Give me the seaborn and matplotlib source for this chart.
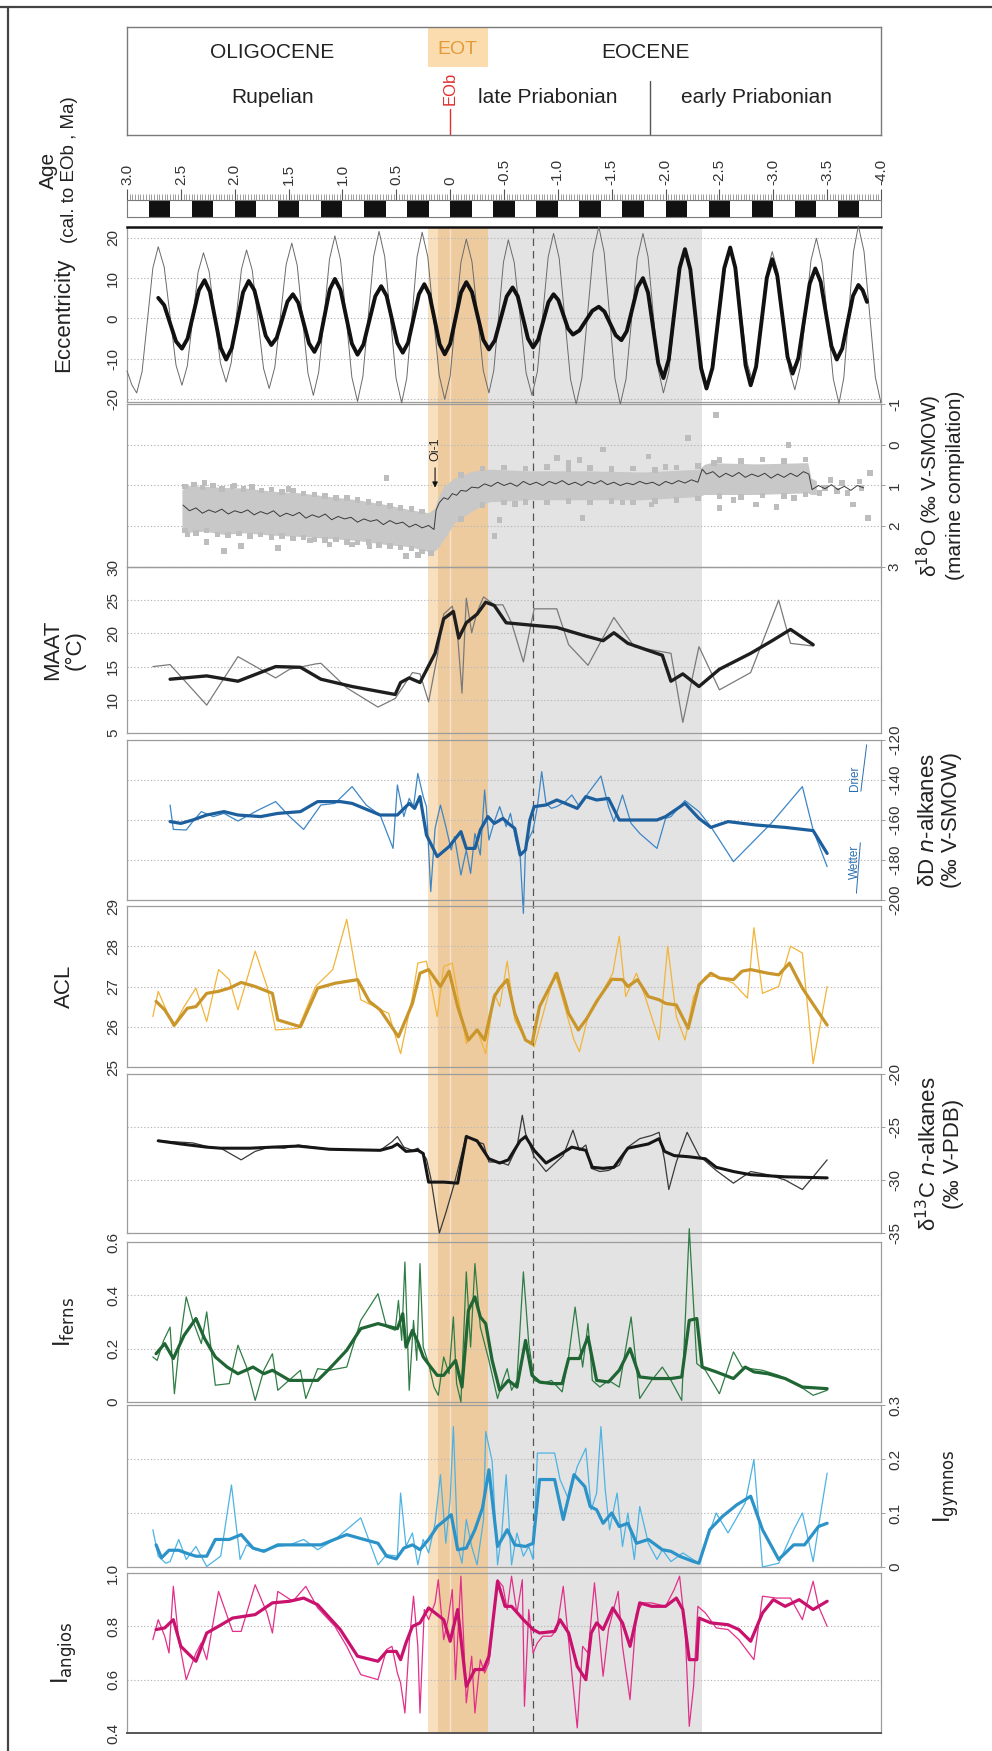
import matplotlib
matplotlib.use("Agg")
import matplotlib.pyplot as plt
import seaborn as sns
import pandas as pd
from matplotlib.lines import Line2D
from matplotlib.ticker import MultipleLocator

sns.set_theme(style="white")
plt.rcParams["font.family"] = ["Liberation Sans", "DejaVu Sans"]
plt.rcParams["axes.unicode_minus"] = False

# ---------------- data ----------------
age_ticks = [3.0, 2.5, 2.0, 1.5, 1.0, 0.5, 0.0, -0.5, -1.0, -1.5, -2.0, -2.5, -3.0, -3.5, -4.0]
age_ticklabels = ["3.0", "2.5", "2.0", "1.5", "1.0", "0.5", "0", "-0.5", "-1.0", "-1.5",
                  "-2.0", "-2.5", "-3.0", "-3.5", "-4.0"]
chron_black = [2.8, 2.4, 2.0, 1.6, 1.2, 0.8, 0.4, 0.0, -0.4, -0.8, -1.2, -1.6, -2.0,
               -2.4, -2.8, -3.2, -3.6]
chron_len = 0.2

eot_light = (0.21, -0.35)
eot_dark = (0.11, -0.35)
grey_band = (-0.35, -2.34)
eob_age = 0.0
dashed_age = -0.77
priabonian_split = -1.86

ecc_raw = [(3.00, -13.0), (2.955, -16.5), (2.91, -18.5), (2.86, -13.2), (2.81, -0.35), (2.76, 12.5),
           (2.71, 17.8), (2.655, 12.8), (2.60, 0.6), (2.545, -11.6), (2.49, -16.6), (2.44, -11.8),
           (2.39, -0.15), (2.34, 11.5), (2.29, 16.3), (2.2375, 11.6), (2.185, 0.25), (2.1325, -11.1),
           (2.08, -15.8), (2.0325, -11.0), (1.985, 0.6), (1.9375, 12.2), (1.89, 17.0), (1.8375, 12.0),
           (1.785, -0.2), (1.7325, -12.4), (1.68, -17.4), (1.6275, -12.1), (1.575, 0.65), (1.5225, 13.4),
           (1.47, 18.7), (1.42, 13.2), (1.37, -0.2), (1.32, -13.6), (1.27, -19.1), (1.22, -13.3),
           (1.17, 0.7), (1.12, 14.7), (1.07, 20.5), (1.0175, 14.5), (0.965, -0.05), (0.9125, -14.6),
           (0.86, -20.6), (0.81, -14.4), (0.76, 0.5), (0.71, 15.4), (0.66, 21.6), (0.6075, 15.4),
           (0.555, 0.3), (0.5025, -14.8), (0.45, -21.0), (0.4025, -14.8), (0.355, 0.2), (0.3075, 15.2),
           (0.26, 21.4), (0.2075, 15.3), (0.155, 0.65), (0.1025, -14.0), (0.05, -20.1), (0.0, -14.3),
           (-0.05, -0.2), (-0.10, 13.9), (-0.15, 19.7), (-0.2025, 14.1), (-0.255, 0.6), (-0.3075, -12.9),
           (-0.36, -18.5), (-0.405, -12.95), (-0.45, 0.5), (-0.495, 13.95), (-0.54, 19.5), (-0.595, 13.9),
           (-0.65, 0.2), (-0.705, -13.5), (-0.76, -19.1), (-0.81, -13.2), (-0.86, 1.0), (-0.91, 15.2),
           (-0.96, 21.1), (-1.0125, 14.9), (-1.065, -0.1), (-1.1175, -15.1), (-1.17, -21.3),
           (-1.2225, -14.9), (-1.275, 0.75), (-1.3275, 16.4), (-1.38, 22.8), (-1.43, 16.4),
           (-1.48, 0.75), (-1.53, -14.9), (-1.58, -21.3), (-1.6325, -15.1), (-1.685, -0.1),
           (-1.7375, 14.9), (-1.79, 21.1), (-1.8375, 15.3), (-1.885, 1.3), (-1.9325, -12.7),
           (-1.98, -18.5), (-2.03, -13.3), (-2.08, -0.65), (-2.13, 12.0), (-2.18, 17.2), (-2.2325, 12.2),
           (-2.285, 0.0), (-2.3375, -12.2), (-2.39, -17.2), (-2.4425, -12.2), (-2.495, -0.2),
           (-2.5475, 11.8), (-2.60, 16.8), (-2.6525, 12.0), (-2.705, 0.5), (-2.7575, -11.0),
           (-2.81, -15.8), (-2.855, -11.1), (-2.90, 0.4), (-2.945, 11.9), (-2.99, 16.6), (-3.0425, 11.6),
           (-3.095, -0.55), (-3.1475, -12.7), (-3.20, -17.7), (-3.25, -12.2), (-3.30, 1.1), (-3.35, 14.4),
           (-3.40, 19.9), (-3.4525, 13.9), (-3.505, -0.6), (-3.5575, -15.1), (-3.61, -21.1),
           (-3.655, -14.7), (-3.70, 1.0), (-3.745, 16.6), (-3.79, 23.0), (-3.8425, 16.6), (-3.895, 1.0),
           (-3.9475, -14.6), (-4.00, -21.0)]
ecc_fit = [(2.71, 5.1), (2.655, 3.3), (2.60, -1.2), (2.545, -5.7), (2.49, -7.5), (2.4375, -5.0),
           (2.385, 1.0), (2.3325, 7.0), (2.28, 9.5), (2.23, 6.6), (2.18, -0.35), (2.13, -7.3),
           (2.08, -10.2), (2.0275, -7.4), (1.975, -0.45), (1.9225, 6.5), (1.87, 9.3), (1.8175, 7.0),
           (1.765, 1.35), (1.7125, -4.3), (1.66, -6.6), (1.61, -4.8), (1.56, -0.3), (1.51, 4.2),
           (1.46, 6.0), (1.41, 3.9), (1.36, -1.15), (1.31, -6.2), (1.26, -8.3), (1.2125, -5.7),
           (1.165, 0.75), (1.1175, 7.2), (1.07, 9.8), (1.0175, 7.05), (0.965, 0.4), (0.9125, -6.25),
           (0.86, -9.0), (0.805, -6.5), (0.75, -0.5), (0.695, 5.5), (0.64, 8.0), (0.59, 5.6),
           (0.54, -0.25), (0.49, -6.1), (0.44, -8.5), (0.39, -6.0), (0.34, 0.0), (0.29, 6.0),
           (0.24, 8.5), (0.1925, 6.0), (0.145, -0.2), (0.0975, -6.4), (0.05, -8.9), (0.0, -6.3),
           (-0.05, 0.05), (-0.10, 6.4), (-0.15, 9.0), (-0.2025, 6.55), (-0.255, 0.65), (-0.3075, -5.3),
           (-0.36, -7.7), (-0.415, -5.45), (-0.47, 0.0), (-0.525, 5.45), (-0.58, 7.7), (-0.6275, 5.5),
           (-0.675, 0.25), (-0.7225, -5.0), (-0.77, -7.2), (-0.8175, -5.25), (-0.865, -0.6),
           (-0.9125, 4.05), (-0.96, 6.0), (-1.005, 4.55), (-1.05, 1.0), (-1.095, -2.55), (-1.14, -4.0),
           (-1.20, -3.0), (-1.26, -0.55), (-1.32, 1.9), (-1.38, 2.9), (-1.4325, 1.7), (-1.485, -1.25),
           (-1.5375, -4.2), (-1.59, -5.4), (-1.64, -3.15), (-1.69, 2.3), (-1.74, 7.75), (-1.79, 10.0),
           (-1.8375, 6.4), (-1.885, -2.4), (-1.9325, -11.2), (-1.98, -14.8), (-2.03, -10.1),
           (-2.08, 1.2), (-2.13, 12.5), (-2.18, 17.2), (-2.23, 12.15), (-2.28, -0.1), (-2.33, -12.35),
           (-2.38, -17.4), (-2.435, -12.3), (-2.49, 0.1), (-2.545, 12.5), (-2.60, 17.6),
           (-2.6475, 12.6), (-2.695, 0.5), (-2.7425, -11.6), (-2.79, -16.6), (-2.84, -12.0),
           (-2.89, -0.95), (-2.94, 10.1), (-2.99, 14.7), (-3.0375, 10.55), (-3.085, 0.5),
           (-3.1325, -9.55), (-3.18, -13.7), (-3.2325, -9.9), (-3.285, -0.65), (-3.3375, 8.6),
           (-3.39, 12.4), (-3.44, 9.1), (-3.49, 1.1), (-3.54, -6.9), (-3.59, -10.2), (-3.64, -7.5),
           (-3.69, -0.95), (-3.74, 5.6), (-3.79, 8.3), (-3.83, 7.0), (-3.87, 4.1)]

# marine d18O: cloud envelope (age, low edge, high edge), single measurements, running mean
d18o_cloud = [(2.49, 1.10, 2.05), (2.44, 1.00, 2.15), (2.28, 1.02, 2.12), (2.10, 1.05, 2.20),
              (1.91, 1.06, 2.16), (1.65, 1.14, 2.22), (1.39, 1.18, 2.25), (1.12, 1.27, 2.30),
              (0.86, 1.35, 2.35), (0.59, 1.47, 2.45), (0.38, 1.59, 2.50), (0.20, 1.67, 2.62),
              (0.14, 1.55, 2.60), (0.12, 1.35, 2.55), (0.06, 1.02, 2.33), (-0.04, 0.82, 1.92),
              (-0.20, 0.65, 1.63), (-0.36, 0.60, 1.40), (-0.73, 0.64, 1.35), (-1.26, 0.64, 1.35),
              (-1.79, 0.67, 1.35), (-2.31, 0.60, 1.27), (-2.36, 0.48, 1.22), (-2.42, 0.44, 1.22),
              (-2.84, 0.47, 1.22), (-3.32, 0.44, 1.18), (-3.35, 0.82, 1.22), (-3.40, 0.88, 1.22)]
d18o_points = [(2.26, 2.39), (2.10, 2.61), (1.94, 2.49), (1.60, 2.53), (1.12, 2.45), (0.91, 2.45),
               (0.75, 2.49), (0.59, 0.82), (0.41, 2.73), (2.44, 2.20), (2.28, 0.94), (-0.41, 2.24),
               (-0.46, 1.84), (-0.99, 0.33), (-1.10, 0.45), (-1.20, 0.37), (-1.42, 0.12),
               (-1.23, 1.80), (-1.87, 1.47), (-1.84, 0.29), (-2.21, -0.16), (-2.45, 0.45),
               (-2.50, 1.55), (-2.63, 1.35), (-2.84, 1.47), (-3.03, 1.53), (-3.14, 0.00),
               (-3.19, 1.31), (-3.74, 1.47), (-3.88, 1.80), (-3.90, 0.69), (-3.48, 1.06),
               (-3.64, 0.94), (-3.59, 1.14), (-3.80, 0.90), (-3.43, 1.18), (-3.53, 0.86),
               (-3.69, 1.18), (-3.82, 1.06), (-2.47, -0.73), (1.30, 2.35), (0.30, 2.70),
               (2.00, 1.00), (1.50, 1.08), (-0.60, 1.45), (-1.60, 1.42), (-2.00, 0.55),
               (2.46, 1.02), (2.38, 0.98), (2.30, 1.05), (2.20, 1.00), (2.12, 1.08), (2.02, 1.02),
               (1.92, 1.08), (1.84, 1.04), (1.75, 1.12), (1.66, 1.10), (1.56, 1.16), (1.46, 1.12),
               (1.36, 1.20), (1.26, 1.22), (1.16, 1.26), (1.06, 1.30), (0.96, 1.30), (0.86, 1.36),
               (0.76, 1.40), (0.66, 1.44), (0.56, 1.50), (0.46, 1.55), (0.36, 1.58), (0.26, 1.64),
               (2.46, 2.10), (2.36, 2.16), (2.26, 2.10), (2.16, 2.20), (2.06, 2.22), (1.96, 2.18),
               (1.86, 2.24), (1.76, 2.20), (1.66, 2.26), (1.56, 2.24), (1.46, 2.30), (1.36, 2.28),
               (1.26, 2.32), (1.16, 2.34), (1.06, 2.32), (0.96, 2.38), (0.86, 2.40), (0.76, 2.38),
               (0.66, 2.46), (0.56, 2.48), (0.46, 2.52), (0.36, 2.55), (0.26, 2.62), (0.18, 2.66),
               (-0.10, 0.74), (-0.30, 0.58), (-0.50, 0.56), (-0.70, 0.58), (-0.90, 0.55), (-1.10, 0.60),
               (-1.30, 0.57), (-1.50, 0.60), (-1.70, 0.58), (-1.90, 0.62), (-2.10, 0.56), (-2.30, 0.52),
               (-2.50, 0.38), (-2.70, 0.40), (-2.90, 0.36), (-3.10, 0.40), (-3.30, 0.36),
               (-0.10, 1.82), (-0.30, 1.48), (-0.50, 1.42), (-0.70, 1.40), (-0.90, 1.42), (-1.10, 1.38),
               (-1.30, 1.42), (-1.50, 1.38), (-1.70, 1.42), (-1.90, 1.38), (-2.10, 1.35), (-2.30, 1.32),
               (-2.50, 1.26), (-2.70, 1.28), (-2.90, 1.25), (-3.10, 1.26), (-3.30, 1.22)]
d18o_mean = [(2.48, 1.48), (2.42, 1.62), (2.36, 1.55), (2.30, 1.68), (2.24, 1.60), (2.18, 1.66),
             (2.12, 1.58), (2.06, 1.70), (2.00, 1.62), (1.94, 1.67), (1.88, 1.60), (1.82, 1.72),
             (1.76, 1.64), (1.70, 1.70), (1.64, 1.62), (1.58, 1.76), (1.52, 1.68), (1.46, 1.74),
             (1.40, 1.66), (1.34, 1.80), (1.28, 1.72), (1.22, 1.78), (1.16, 1.70), (1.10, 1.84),
             (1.04, 1.76), (0.98, 1.82), (0.92, 1.78), (0.86, 1.90), (0.80, 1.82), (0.74, 1.88),
             (0.68, 1.84), (0.62, 1.96), (0.56, 1.86), (0.50, 1.94), (0.44, 1.90), (0.38, 2.02),
             (0.32, 1.95), (0.26, 2.04), (0.20, 1.98), (0.15, 2.08), (0.13, 1.60), (0.10, 1.42),
             (0.06, 1.30), (0.02, 1.34), (-0.02, 1.20), (-0.06, 1.24), (-0.10, 1.12), (-0.15, 1.14),
             (-0.20, 1.04), (-0.26, 1.06), (-0.32, 0.96), (-0.38, 1.02), (-0.44, 0.92), (-0.50, 1.00),
             (-0.56, 0.94), (-0.62, 1.02), (-0.68, 0.90), (-0.74, 0.98), (-0.80, 0.92), (-0.86, 1.00),
             (-0.92, 0.90), (-0.98, 0.96), (-1.04, 0.88), (-1.10, 0.98), (-1.16, 0.92), (-1.22, 1.00),
             (-1.28, 0.90), (-1.34, 0.96), (-1.40, 0.88), (-1.46, 0.98), (-1.52, 0.92), (-1.58, 1.00),
             (-1.64, 0.94), (-1.70, 0.98), (-1.76, 0.90), (-1.82, 0.96), (-1.88, 0.92), (-1.94, 1.00),
             (-2.00, 0.90), (-2.06, 0.96), (-2.12, 0.88), (-2.18, 0.94), (-2.24, 0.86), (-2.30, 0.92),
             (-2.34, 0.60), (-2.38, 0.72), (-2.44, 0.66), (-2.50, 0.80), (-2.56, 0.70), (-2.62, 0.78),
             (-2.68, 0.68), (-2.74, 0.80), (-2.80, 0.72), (-2.86, 0.78), (-2.92, 0.70), (-2.98, 0.82),
             (-3.04, 0.72), (-3.10, 0.80), (-3.16, 0.70), (-3.22, 0.78), (-3.28, 0.66), (-3.33, 0.72),
             (-3.36, 1.10), (-3.42, 1.00), (-3.48, 1.08), (-3.54, 0.98), (-3.60, 1.10), (-3.66, 1.02),
             (-3.72, 1.12), (-3.78, 1.00), (-3.84, 1.06)]
oi1_age = 0.14

maat_raw = [(2.76, 15.0), (2.60, 15.3), (2.26, 9.2), (1.97, 16.5), (1.62, 13.3), (1.49, 14.6),
            (1.25, 15.4), (1.20, 15.5), (0.96, 11.8), (0.67, 8.9), (0.51, 10.2), (0.35, 14.1),
            (0.28, 13.9), (0.20, 9.7), (0.12, 16.5), (0.06, 22.9), (-0.02, 24.1), (-0.07, 19.6),
            (-0.11, 11.0), (-0.15, 25.3), (-0.20, 20.1), (-0.25, 23.2), (-0.31, 25.5), (-0.41, 24.3),
            (-0.49, 24.3), (-0.57, 21.6), (-0.68, 15.7), (-0.78, 23.7), (-0.99, 23.7), (-1.10, 18.3),
            (-1.28, 15.2), (-1.52, 22.4), (-1.71, 18.0), (-2.05, 17.0), (-2.16, 6.6), (-2.31, 18.0),
            (-2.50, 11.5), (-2.79, 14.1), (-3.05, 25.0), (-3.16, 18.5), (-3.37, 18.1)]
maat_fit = [(2.60, 13.1), (2.26, 13.6), (1.97, 12.8), (1.62, 15.0), (1.39, 14.9), (1.20, 13.1),
            (0.91, 12.0), (0.51, 10.8), (0.46, 12.6), (0.38, 13.3), (0.28, 12.6), (0.14, 17.0),
            (0.06, 22.2), (-0.03, 23.3), (-0.08, 19.3), (-0.15, 21.6), (-0.25, 22.9), (-0.33, 24.7),
            (-0.41, 24.2), (-0.52, 21.6), (-0.78, 21.2), (-0.99, 20.9), (-1.26, 19.6), (-1.42, 18.9),
            (-1.52, 20.1), (-1.65, 18.5), (-1.97, 16.7), (-2.05, 12.8), (-2.16, 13.9), (-2.31, 12.0),
            (-2.50, 14.6), (-2.79, 17.0), (-3.00, 19.0), (-3.16, 20.6), (-3.37, 18.3)]

dD_raw = [(2.60, -152.5), (2.57, -164.7), (2.45, -165.0), (2.39, -160.8), (2.31, -155.8),
          (2.20, -158.3), (2.10, -156.7), (1.97, -160.5), (1.78, -155.0), (1.62, -150.8),
          (1.49, -158.3), (1.36, -164.7), (1.20, -152.5), (1.07, -151.7), (0.91, -143.3),
          (0.78, -152.5), (0.65, -157.5), (0.53, -174.2), (0.49, -142.5), (0.43, -158.3),
          (0.38, -149.2), (0.34, -153.3), (0.30, -136.7), (0.25, -148.3), (0.22, -153.3),
          (0.18, -195.8), (0.14, -164.2), (0.09, -152.5), (0.04, -163.3), (-0.01, -175.0),
          (-0.04, -168.3), (-0.10, -187.5), (-0.15, -175.0), (-0.19, -186.7), (-0.23, -166.7),
          (-0.28, -177.5), (-0.32, -145.0), (-0.36, -170.0), (-0.41, -160.8), (-0.46, -153.3),
          (-0.52, -163.3), (-0.56, -156.7), (-0.61, -170.0), (-0.65, -178.3), (-0.68, -206.7),
          (-0.70, -173.3), (-0.74, -168.3), (-0.77, -165.0), (-0.81, -153.3), (-0.85, -135.8),
          (-0.89, -151.7), (-0.94, -154.2), (-0.99, -153.3), (-1.07, -150.8), (-1.13, -147.5),
          (-1.20, -153.3), (-1.28, -146.7), (-1.40, -138.0), (-1.47, -153.3), (-1.52, -160.8),
          (-1.60, -147.5), (-1.68, -161.7), (-1.76, -166.7), (-1.92, -174.2), (-2.00, -159.2),
          (-2.05, -158.3), (-2.18, -150.3), (-2.31, -155.8), (-2.42, -163.3), (-2.63, -180.8),
          (-2.98, -161.7), (-3.27, -143.3), (-3.37, -165.0), (-3.50, -183.3)]
dD_fit = [(2.60, -160.8), (2.50, -161.7), (2.39, -160.0), (2.26, -157.5), (2.10, -155.8),
          (1.97, -157.5), (1.76, -158.3), (1.60, -156.7), (1.39, -155.8), (1.23, -150.8),
          (1.02, -150.8), (0.91, -151.7), (0.65, -157.5), (0.49, -157.5), (0.38, -151.7),
          (0.33, -154.2), (0.28, -148.3), (0.22, -167.5), (0.12, -178.3), (0.01, -173.3),
          (-0.10, -165.8), (-0.15, -174.2), (-0.23, -174.2), (-0.28, -165.0), (-0.35, -158.3),
          (-0.41, -161.7), (-0.49, -159.2), (-0.54, -161.7), (-0.60, -164.2), (-0.65, -177.5),
          (-0.70, -175.0), (-0.74, -160.0), (-0.78, -153.3), (-0.89, -152.5), (-0.99, -150.0),
          (-1.07, -151.7), (-1.18, -154.2), (-1.26, -148.3), (-1.36, -150.0), (-1.47, -149.2),
          (-1.57, -160.0), (-1.76, -160.0), (-1.92, -160.0), (-2.00, -158.3), (-2.18, -151.7),
          (-2.31, -159.2), (-2.42, -163.7), (-2.58, -160.8), (-2.84, -162.5), (-3.11, -163.7),
          (-3.37, -165.3), (-3.50, -176.7)]

acl_raw = [(2.76, 26.25), (2.71, 26.88), (2.57, 26.0), (2.47, 26.5), (2.36, 26.96), (2.26, 26.13),
           (2.15, 27.42), (2.05, 27.17), (1.97, 26.42), (1.81, 27.88), (1.70, 27.0), (1.62, 25.92),
           (1.41, 25.96), (1.25, 27.0), (1.09, 27.42), (0.96, 28.67), (0.83, 26.67), (0.67, 26.46),
           (0.57, 26.33), (0.46, 25.33), (0.35, 26.75), (0.30, 27.58), (0.22, 27.63), (0.12, 26.25),
           (0.06, 27.5), (-0.02, 27.58), (-0.15, 25.58), (-0.25, 25.92), (-0.33, 25.33), (-0.41, 26.83),
           (-0.46, 26.5), (-0.53, 27.63), (-0.60, 26.17), (-0.70, 25.67), (-0.78, 25.5), (-0.89, 26.58),
           (-0.97, 27.33), (-1.02, 26.92), (-1.15, 25.67), (-1.20, 25.38), (-1.28, 26.25), (-1.36, 26.58),
           (-1.44, 27.0), (-1.51, 27.33), (-1.57, 28.25), (-1.63, 26.75), (-1.73, 27.33), (-1.81, 26.75),
           (-1.87, 26.25), (-1.94, 25.67), (-2.02, 28.0), (-2.10, 26.25), (-2.18, 25.67), (-2.26, 26.75),
           (-2.37, 27.25), (-2.47, 27.25), (-2.63, 27.08), (-2.76, 26.71), (-2.82, 28.46), (-2.90, 26.83),
           (-3.05, 27.0), (-3.16, 28.0), (-3.27, 27.83), (-3.37, 25.08), (-3.50, 27.0)]
acl_fit = [(2.73, 26.63), (2.65, 26.42), (2.56, 26.04), (2.44, 26.46), (2.36, 26.5), (2.26, 26.83),
           (2.15, 26.88), (2.05, 26.96), (1.94, 27.1), (1.81, 27.0), (1.65, 26.83), (1.60, 26.17),
           (1.39, 26.0), (1.23, 26.96), (1.07, 27.08), (0.86, 27.17), (0.75, 26.63), (0.65, 26.42),
           (0.48, 25.75), (0.35, 26.58), (0.28, 27.33), (0.20, 27.42), (0.09, 27.0), (0.01, 27.38),
           (-0.07, 26.5), (-0.17, 25.67), (-0.25, 25.92), (-0.32, 25.67), (-0.41, 26.75), (-0.46, 26.96),
           (-0.53, 27.17), (-0.60, 26.33), (-0.70, 25.67), (-0.76, 25.58), (-0.83, 26.5), (-0.99, 27.33),
           (-1.10, 26.33), (-1.19, 25.92), (-1.27, 26.21), (-1.36, 26.63), (-1.50, 27.18), (-1.60, 27.17),
           (-1.65, 27.0), (-1.74, 27.17), (-1.84, 26.75), (-1.94, 26.67), (-2.00, 26.58), (-2.10, 26.54),
           (-2.21, 25.96), (-2.31, 27.04), (-2.42, 27.33), (-2.50, 27.21), (-2.63, 27.17), (-2.71, 27.38),
           (-2.79, 27.42), (-2.95, 27.33), (-3.05, 27.29), (-3.15, 27.58), (-3.27, 26.96), (-3.50, 26.04)]

d13c_raw = [(2.71, -26.3), (2.55, -26.4), (2.39, -26.5), (2.23, -26.9), (2.13, -27.0), (1.94, -28.1),
            (1.81, -27.3), (1.68, -26.9), (1.54, -27.0), (1.41, -26.7), (1.12, -27.1), (0.86, -27.2),
            (0.65, -27.2), (0.54, -26.4), (0.49, -25.9), (0.43, -26.9), (0.35, -27.2), (0.30, -27.0),
            (0.22, -28.0), (0.18, -29.8), (0.10, -35.0), (0.04, -33.1), (-0.04, -30.3), (-0.15, -25.8),
            (-0.23, -26.3), (-0.31, -26.6), (-0.36, -28.3), (-0.46, -28.3), (-0.54, -28.6), (-0.62, -26.9),
            (-0.67, -23.9), (-0.70, -25.6), (-0.78, -27.8), (-0.89, -29.2), (-1.05, -27.7), (-1.14, -25.3),
            (-1.20, -27.2), (-1.26, -26.7), (-1.31, -28.9), (-1.39, -29.2), (-1.47, -29.1), (-1.57, -28.6),
            (-1.65, -26.9), (-1.76, -26.1), (-1.87, -25.8), (-1.94, -25.5), (-1.99, -28.1), (-2.03, -30.9),
            (-2.10, -28.3), (-2.20, -25.5), (-2.31, -27.7), (-2.47, -29.1), (-2.63, -30.3), (-2.79, -29.2),
            (-2.95, -29.5), (-3.11, -30.0), (-3.27, -30.9), (-3.37, -29.7), (-3.50, -28.1)]
d13c_fit = [(2.71, -26.3), (2.50, -26.6), (2.26, -26.9), (2.13, -27.0), (1.86, -27.0), (1.65, -26.9),
            (1.41, -26.8), (1.12, -27.1), (0.65, -27.2), (0.54, -26.9), (0.49, -26.6), (0.41, -27.3),
            (0.30, -27.2), (0.25, -27.5), (0.20, -30.2), (0.06, -30.2), (-0.07, -30.3), (-0.15, -25.9),
            (-0.25, -26.3), (-0.36, -28.0), (-0.46, -28.4), (-0.54, -28.1), (-0.65, -26.3), (-0.70, -25.9),
            (-0.78, -27.2), (-0.89, -28.4), (-0.99, -27.8), (-1.13, -26.9), (-1.26, -27.2), (-1.32, -28.8),
            (-1.42, -28.9), (-1.52, -28.8), (-1.65, -27.0), (-1.84, -26.6), (-1.94, -26.1), (-1.99, -27.3),
            (-2.08, -27.7), (-2.21, -27.8), (-2.37, -28.0), (-2.47, -28.8), (-2.63, -29.2), (-2.79, -29.5),
            (-3.11, -29.7), (-3.50, -29.8)]

ferns_raw = [(2.76, 0.169), (2.72, 0.156), (2.66, 0.231), (2.60, 0.281), (2.56, 0.031), (2.52, 0.194),
             (2.45, 0.394), (2.39, 0.306), (2.31, 0.219), (2.26, 0.338), (2.18, 0.063), (2.05, 0.069),
             (1.97, 0.213), (1.89, 0.131), (1.81, 0.006), (1.73, 0.119), (1.65, 0.181), (1.60, 0.044),
             (1.46, 0.094), (1.39, 0.119), (1.34, 0.013), (1.23, 0.125), (1.12, 0.119), (0.96, 0.131),
             (0.83, 0.306), (0.67, 0.406), (0.59, 0.281), (0.51, 0.269), (0.48, 0.381), (0.45, 0.231),
             (0.42, 0.525), (0.38, 0.044), (0.34, 0.306), (0.31, 0.156), (0.28, 0.519), (0.25, 0.206),
             (0.20, 0.144), (0.15, 0.056), (0.11, 0.025), (0.06, 0.169), (0.01, 0.106), (-0.03, 0.319),
             (-0.06, 0.069), (-0.10, 0.0), (-0.15, 0.488), (-0.19, 0.206), (-0.23, 0.519), (-0.28, 0.281),
             (-0.36, 0.156), (-0.44, 0.013), (-0.49, 0.081), (-0.53, 0.125), (-0.57, 0.044), (-0.62, 0.081),
             (-0.68, 0.488), (-0.73, 0.219), (-0.78, 0.081), (-0.86, 0.069), (-0.94, 0.081), (-1.04, 0.038),
             (-1.10, 0.169), (-1.16, 0.356), (-1.23, 0.131), (-1.28, 0.294), (-1.32, 0.081), (-1.39, 0.056),
             (-1.47, 0.081), (-1.57, 0.056), (-1.68, 0.319), (-1.76, 0.013), (-1.87, 0.081), (-1.97, 0.131),
             (-2.05, 0.081), (-2.15, 0.006), (-2.22, 0.65), (-2.29, 0.144), (-2.37, 0.119), (-2.50, 0.031),
             (-2.63, 0.188), (-2.71, 0.131), (-2.79, 0.125), (-2.90, 0.119), (-3.05, 0.1), (-3.21, 0.069),
             (-3.37, 0.025), (-3.50, 0.044)]
ferns_fit = [(2.73, 0.181), (2.65, 0.219), (2.57, 0.163), (2.47, 0.25), (2.36, 0.313), (2.28, 0.238),
             (2.18, 0.169), (2.07, 0.131), (1.97, 0.106), (1.83, 0.131), (1.73, 0.106), (1.65, 0.119),
             (1.49, 0.081), (1.33, 0.081), (1.23, 0.081), (1.12, 0.125), (0.96, 0.194), (0.83, 0.275),
             (0.67, 0.294), (0.49, 0.275), (0.44, 0.331), (0.41, 0.206), (0.35, 0.269), (0.30, 0.225),
             (0.25, 0.169), (0.18, 0.131), (0.12, 0.1), (0.06, 0.1), (0.00, 0.131), (-0.05, 0.156),
             (-0.11, 0.056), (-0.17, 0.344), (-0.23, 0.394), (-0.28, 0.319), (-0.33, 0.294), (-0.39, 0.156),
             (-0.46, 0.044), (-0.54, 0.081), (-0.62, 0.056), (-0.70, 0.231), (-0.76, 0.1), (-0.83, 0.075),
             (-0.94, 0.069), (-1.04, 0.069), (-1.10, 0.163), (-1.20, 0.163), (-1.28, 0.244), (-1.36, 0.081),
             (-1.47, 0.075), (-1.57, 0.119), (-1.67, 0.2), (-1.76, 0.094), (-1.89, 0.088), (-2.05, 0.088),
             (-2.15, 0.094), (-2.22, 0.306), (-2.29, 0.313), (-2.34, 0.131), (-2.47, 0.113), (-2.63, 0.088),
             (-2.74, 0.131), (-2.82, 0.113), (-2.95, 0.106), (-3.11, 0.088), (-3.27, 0.056), (-3.50, 0.05)]

gymnos_raw = [(2.76, 0.069), (2.71, 0.020), (2.64, 0.007), (2.60, 0.010), (2.52, 0.051), (2.45, 0.014),
              (2.36, 0.038), (2.26, 0.001), (2.13, 0.020), (2.03, 0.152), (1.95, 0.014), (1.89, 0.041),
              (1.81, 0.032), (1.70, 0.032), (1.60, 0.038), (1.49, 0.041), (1.36, 0.051), (1.23, 0.032),
              (1.07, 0.051), (0.83, 0.091), (0.67, 0.004), (0.59, 0.023), (0.49, 0.020), (0.46, 0.137),
              (0.41, 0.038), (0.35, 0.063), (0.30, 0.004), (0.25, 0.051), (0.20, 0.026), (0.14, 0.081),
              (0.09, 0.171), (0.04, 0.044), (0.00, 0.125), (-0.03, 0.26), (-0.07, 0.038), (-0.11, 0.007),
              (-0.15, 0.088), (-0.20, 0.038), (-0.25, 0.004), (-0.31, 0.088), (-0.33, 0.251), (-0.39, 0.196),
              (-0.44, 0.004), (-0.48, 0.063), (-0.52, 0.171), (-0.57, 0.004), (-0.62, 0.063), (-0.68, 0.020),
              (-0.73, 0.038), (-0.77, 0.014), (-0.81, 0.211), (-0.89, 0.211), (-0.97, 0.211), (-1.02, 0.162),
              (-1.10, 0.125), (-1.18, 0.186), (-1.26, 0.22), (-1.31, 0.106), (-1.36, 0.137), (-1.40, 0.26),
              (-1.44, 0.143), (-1.48, 0.069), (-1.55, 0.137), (-1.60, 0.038), (-1.65, 0.1), (-1.71, 0.014),
              (-1.76, 0.112), (-1.84, 0.044), (-1.92, 0.014), (-1.97, 0.032), (-2.05, 0.010), (-2.16, 0.026),
              (-2.31, 0.007), (-2.47, 0.1), (-2.58, 0.063), (-2.74, 0.119), (-2.82, 0.199), (-2.90, 0.0),
              (-3.05, 0.007), (-3.19, 0.069), (-3.27, 0.1), (-3.37, 0.010), (-3.42, 0.075), (-3.50, 0.174)]
gymnos_fit = [(2.73, 0.041), (2.68, 0.017), (2.61, 0.031), (2.52, 0.031), (2.44, 0.025), (2.36, 0.020),
              (2.26, 0.020), (2.18, 0.051), (2.05, 0.051), (1.94, 0.060), (1.83, 0.035), (1.73, 0.029),
              (1.60, 0.041), (1.39, 0.041), (1.20, 0.041), (0.96, 0.060), (0.80, 0.051), (0.67, 0.044),
              (0.59, 0.020), (0.50, 0.015), (0.43, 0.035), (0.35, 0.041), (0.28, 0.032), (0.20, 0.051),
              (0.12, 0.075), (0.04, 0.088), (-0.01, 0.097), (-0.07, 0.032), (-0.15, 0.035), (-0.23, 0.069),
              (-0.30, 0.109), (-0.36, 0.180), (-0.44, 0.038), (-0.53, 0.069), (-0.60, 0.041), (-0.70, 0.038),
              (-0.77, 0.044), (-0.83, 0.162), (-0.97, 0.162), (-1.05, 0.088), (-1.15, 0.171), (-1.25, 0.149),
              (-1.30, 0.112), (-1.36, 0.106), (-1.42, 0.081), (-1.50, 0.1), (-1.57, 0.075), (-1.65, 0.081),
              (-1.73, 0.044), (-1.84, 0.051), (-1.97, 0.032), (-2.05, 0.029), (-2.13, 0.020), (-2.26, 0.010),
              (-2.31, 0.007), (-2.41, 0.069), (-2.53, 0.094), (-2.66, 0.115), (-2.79, 0.131), (-2.90, 0.069),
              (-3.05, 0.014), (-3.19, 0.041), (-3.29, 0.041), (-3.42, 0.075), (-3.50, 0.081)]

angios_raw = [(2.76, 0.75), (2.71, 0.825), (2.65, 0.763), (2.61, 0.70), (2.57, 0.95), (2.52, 0.75),
              (2.45, 0.60), (2.36, 0.70), (2.31, 0.738), (2.26, 0.675), (2.15, 0.931), (2.02, 0.781),
              (1.94, 0.781), (1.81, 0.956), (1.70, 0.85), (1.65, 0.775), (1.60, 0.931), (1.46, 0.894),
              (1.34, 0.95), (1.23, 0.869), (1.07, 0.80), (0.96, 0.725), (0.83, 0.619), (0.67, 0.60),
              (0.59, 0.713), (0.54, 0.725), (0.49, 0.625), (0.46, 0.588), (0.42, 0.475), (0.38, 0.738),
              (0.34, 0.913), (0.30, 0.725), (0.28, 0.475), (0.24, 0.863), (0.20, 0.825), (0.14, 0.888),
              (0.11, 0.975), (0.06, 0.75), (0.02, 0.825), (-0.02, 0.938), (-0.05, 0.60), (-0.10, 0.988),
              (-0.15, 0.513), (-0.20, 0.688), (-0.23, 0.475), (-0.28, 0.675), (-0.32, 0.625), (-0.36, 0.663),
              (-0.44, 0.975), (-0.49, 0.95), (-0.53, 0.863), (-0.57, 0.988), (-0.62, 0.85), (-0.67, 0.975),
              (-0.69, 0.50), (-0.73, 0.863), (-0.77, 0.70), (-0.81, 0.738), (-0.86, 0.763), (-0.94, 0.763),
              (-0.99, 0.788), (-1.05, 0.95), (-1.18, 0.419), (-1.23, 0.725), (-1.28, 0.70), (-1.34, 0.963),
              (-1.42, 0.613), (-1.47, 0.788), (-1.56, 0.931), (-1.60, 0.725), (-1.67, 0.525), (-1.73, 0.85),
              (-1.79, 0.888), (-1.87, 0.888), (-2.00, 0.875), (-2.08, 0.938), (-2.13, 0.988), (-2.18, 0.80),
              (-2.22, 0.425), (-2.26, 0.575), (-2.30, 0.875), (-2.37, 0.85), (-2.47, 0.794), (-2.58, 0.788),
              (-2.68, 0.75), (-2.82, 0.675), (-2.90, 0.913), (-3.03, 0.906), (-3.16, 0.906), (-3.27, 0.825),
              (-3.37, 0.969), (-3.42, 0.875), (-3.50, 0.80)]
angios_fit = [(2.73, 0.788), (2.65, 0.794), (2.57, 0.825), (2.50, 0.725), (2.36, 0.669), (2.26, 0.775),
              (2.15, 0.80), (2.02, 0.831), (1.81, 0.844), (1.65, 0.888), (1.49, 0.894), (1.36, 0.906),
              (1.23, 0.881), (1.02, 0.788), (0.86, 0.688), (0.67, 0.669), (0.59, 0.706), (0.50, 0.706),
              (0.46, 0.675), (0.41, 0.738), (0.35, 0.80), (0.28, 0.813), (0.20, 0.869), (0.12, 0.844),
              (0.06, 0.825), (0.00, 0.744), (-0.07, 0.863), (-0.15, 0.575), (-0.23, 0.638), (-0.31, 0.638),
              (-0.36, 0.688), (-0.44, 0.969), (-0.51, 0.875), (-0.57, 0.875), (-0.68, 0.825), (-0.77, 0.788),
              (-0.83, 0.775), (-0.97, 0.781), (-1.02, 0.825), (-1.10, 0.775), (-1.18, 0.65), (-1.26, 0.60),
              (-1.31, 0.775), (-1.36, 0.813), (-1.42, 0.788), (-1.51, 0.869), (-1.60, 0.813), (-1.67, 0.725),
              (-1.76, 0.888), (-1.87, 0.875), (-2.00, 0.875), (-2.10, 0.906), (-2.16, 0.863), (-2.22, 0.675),
              (-2.29, 0.675), (-2.31, 0.831), (-2.42, 0.813), (-2.58, 0.806), (-2.68, 0.788), (-2.79, 0.744),
              (-2.90, 0.85), (-3.00, 0.90), (-3.11, 0.875), (-3.24, 0.90), (-3.37, 0.863), (-3.50, 0.894)]

# ---------------- layout helpers ----------------
W, H = 992, 1751
AX_L, AX_R = 127, 881
fig = plt.figure(figsize=(W / 100, H / 100), dpi=100)


def axes_px(top, bottom, left=AX_L, right=AX_R):
    return fig.add_axes([left / W, 1 - bottom / H, (right - left) / W, (bottom - top) / H])


def to_df(pairs):
    return pd.DataFrame(pairs, columns=["age", "value"])


def draw_series(ax, raw, fit, c_raw, c_fit, lw_raw=0.8, lw_fit=2.4):
    sns.lineplot(data=to_df(raw), x="age", y="value", ax=ax, color=c_raw, lw=lw_raw,
                 sort=False, estimator=None, clip_on=False, zorder=3)
    sns.lineplot(data=to_df(fit), x="age", y="value", ax=ax, color=c_fit, lw=lw_fit,
                 sort=False, estimator=None, clip_on=False, zorder=4)
    ax.set_xlabel("")
    ax.set_ylabel("")


GRID_C = "#b8b8b8"
SPINE_C = "#9c9c9c"
TXT_C = "#222222"


def make_panel(top, bottom, ylim, ticks, labels, side, label, label_x=None, fs=16):
    ax = axes_px(top, bottom)
    ax.set_facecolor("none")
    ax.set_xlim(3.0, -4.0)
    ax.set_ylim(*ylim)
    ax.set_xticks([])
    ax.set_yticks(ticks)
    ax.set_yticklabels(labels, rotation=90, va="center", fontsize=11, color="#333333")
    for t in ticks:
        ax.axhline(t, color=GRID_C, lw=0.8, ls=(0, (1.2, 1.8)), zorder=1)
    for sp in ax.spines.values():
        sp.set_color(SPINE_C)
        sp.set_linewidth(0.9)
    ax.tick_params(axis="y", length=3, width=0.7, color=SPINE_C, pad=2)
    if side == "right":
        ax.yaxis.tick_right()
        lx = 940 if label_x is None else label_x
    else:
        lx = 64 if label_x is None else label_x
    ax.text((lx - AX_L) / (AX_R - AX_L), 0.5, label, transform=ax.transAxes, rotation=90,
            ha="center", va="center", fontsize=fs, color=TXT_C, linespacing=1.1,
            multialignment="center")
    return ax


# ---------------- outer frame ----------------
fig.add_artist(Line2D([0, 1], [1 - 7 / H, 1 - 7 / H], transform=fig.transFigure, color="#444444", lw=1.6))
fig.add_artist(Line2D([8 / W, 8 / W], [0, 1 - 7 / H], transform=fig.transFigure, color="#444444", lw=1.6))

# ---------------- header ----------------
axh = axes_px(27, 135)
axh.set_xlim(3.0, -4.0)
axh.set_ylim(0, 1)
axh.set_xticks([])
axh.set_yticks([])
for sp in axh.spines.values():
    sp.set_color("#7a7a7a")
    sp.set_linewidth(1.0)
axh.axvspan(eot_light[0], eot_light[1], ymin=0.63, ymax=1.0, color="#fbdcae", lw=0)
axh.text(1.65, 0.76, "OLIGOCENE", ha="center", va="center", fontsize=15, color=TXT_C)
axh.text(-0.07, 0.79, "EOT", ha="center", va="center", fontsize=14, color="#e39b3a")
axh.text(-1.81, 0.76, "EOCENE", ha="center", va="center", fontsize=15, color=TXT_C)
axh.text(1.65, 0.35, "Rupelian", ha="center", va="center", fontsize=15, color=TXT_C)
axh.text(-0.91, 0.35, "late Priabonian", ha="center", va="center", fontsize=15, color=TXT_C)
axh.text(-2.84, 0.35, "early Priabonian", ha="center", va="center", fontsize=15, color=TXT_C)
axh.axvline(priabonian_split, ymin=0, ymax=0.5, color="#555555", lw=1.0)
axh.axvline(eob_age, ymin=0, ymax=0.24, color="#e03030", lw=1.0)
axh.text(eob_age, 0.43, "EOb", rotation=90, ha="center", va="center", fontsize=12,
         color="#e03030")

fig.text(48 / W, 1 - 170 / H, "Age", rotation=90, ha="center", va="center", fontsize=15,
         color=TXT_C)
fig.text(70 / W, 1 - 170 / H, "(cal. to EOb , Ma)", rotation=90, ha="center", va="center",
         fontsize=13.5, color=TXT_C)

# ---------------- age ruler ----------------
axr = axes_px(200, 217)
axr.set_xlim(3.0, -4.0)
axr.set_ylim(0, 1)
axr.set_yticks([])
for s in chron_black:
    axr.axvspan(s, s - chron_len, color="#111111", lw=0)
for sp in axr.spines.values():
    sp.set_color("#7a7a7a")
    sp.set_linewidth(0.8)
axr.xaxis.tick_top()
axr.set_xticks(age_ticks)
axr.set_xticklabels(age_ticklabels, rotation=90, fontsize=11, color="#333333")
axr.xaxis.set_minor_locator(MultipleLocator(0.025))
axr.tick_params(axis="x", which="major", length=8, width=0.8, color="#555555", pad=3,
                top=True, bottom=False)
axr.tick_params(axis="x", which="minor", length=4, width=0.5, color="#777777",
                top=True, bottom=False)

# ---------------- background bands ----------------
axb = axes_px(227, 1733)
axb.set_xlim(3.0, -4.0)
axb.set_ylim(0, 1)
axb.axis("off")
axb.axvspan(grey_band[0], grey_band[1], color="#e3e3e3", lw=0, zorder=0)
axb.axvspan(eot_light[0], eot_light[1], color="#f8dfbd", lw=0, zorder=0)
axb.axvspan(eot_dark[0], eot_dark[1], color="#eecb9f", lw=0, zorder=0)
axb.axvline(eob_age, color="#f5e2c8", lw=1.0, zorder=1)
axb.axvline(dashed_age, color="#555555", lw=0.9, ls=(0, (6, 4)), zorder=1)

# ---------------- panels ----------------
ax = make_panel(227, 402, (-20.75, 22.7), [-20, -10, 0, 10, 20], ["-20", "-10", "0", "10", "20"],
                "left", "Eccentricity")
ax.spines["top"].set_color("#111111")
ax.spines["top"].set_linewidth(1.8)
draw_series(ax, ecc_raw, ecc_fit, "#6a6a6a", "#111111", lw_raw=0.7, lw_fit=2.8)

ax = make_panel(404, 567, (3, -1), [-1, 0, 1, 2, 3], ["-1", "0", "1", "2", "3"], "right",
                "δ$^{18}$O (‰ V-SMOW)\n(marine compilation)", fs=15)
cloud = pd.DataFrame(d18o_cloud, columns=["age", "low", "high"])
ax.fill_between(cloud["age"], cloud["low"], cloud["high"], color="#c8c8c8", lw=0, zorder=2)
sns.scatterplot(data=to_df(d18o_points), x="age", y="value", ax=ax, marker="s", s=16,
                color="#bdbdbd", edgecolor="none", zorder=2)
sns.lineplot(data=to_df(d18o_mean), x="age", y="value", ax=ax, color="#3a3a3a", lw=0.7,
             sort=False, estimator=None, zorder=3)
ax.set_xlabel("")
ax.set_ylabel("")
ax.annotate("", xy=(oi1_age, 1.12), xytext=(oi1_age, 0.5),
            arrowprops=dict(arrowstyle="-|>", color="#111111", lw=0.8, mutation_scale=8))
ax.text(oi1_age, 0.1, "Oi-1", rotation=90, ha="center", va="center", fontsize=9, color=TXT_C)

ax = make_panel(567, 733, (5, 30), [5, 10, 15, 20, 25, 30], ["5", "10", "15", "20", "25", "30"],
                "left", "MAAT\n(°C)")
draw_series(ax, maat_raw, maat_fit, "#7a7a7a", "#1e1e1e", lw_raw=0.9, lw_fit=2.4)

ax = make_panel(740, 900, (-200, -120), [-200, -180, -160, -140, -120],
                ["-200", "-180", "-160", "-140", "-120"], "right",
                "δD $n$-alkanes\n(‰ V-SMOW)")
draw_series(ax, dD_raw, dD_fit, "#3d86c6", "#1c5f9c", lw_raw=0.9, lw_fit=2.3)
ax.text(-3.76, -139, "Drier", rotation=90, ha="center", va="center", fontsize=8.5, color="#2a6db0")
ax.text(-3.76, -181, "Wetter", rotation=90, ha="center", va="center", fontsize=8.5, color="#2a6db0")
ax.annotate("", xy=(-3.87, -121), xytext=(-3.81, -147),
            arrowprops=dict(arrowstyle="-", color="#2a6db0", lw=0.7))
ax.annotate("", xy=(-3.77, -198), xytext=(-3.81, -170),
            arrowprops=dict(arrowstyle="-", color="#2a6db0", lw=0.7))

ax = make_panel(906, 1067, (25, 29), [25, 26, 27, 28, 29], ["25", "26", "27", "28", "29"],
                "left", "ACL")
draw_series(ax, acl_raw, acl_fit, "#f2b43a", "#c9962c", lw_raw=0.9, lw_fit=2.3)

ax = make_panel(1074, 1233, (-35, -20), [-35, -30, -25, -20], ["-35", "-30", "-25", "-20"],
                "right", "δ$^{13}$C $n$-alkanes\n(‰ V-PDB)")
draw_series(ax, d13c_raw, d13c_fit, "#3a3a3a", "#161616", lw_raw=0.9, lw_fit=2.2)

ax = make_panel(1242, 1402, (0, 0.6), [0, 0.2, 0.4, 0.6], ["0", "0.2", "0.4", "0.6"],
                "left", "I$_{\\rm ferns}$", fs=17)
draw_series(ax, ferns_raw, ferns_fit, "#2f7d45", "#1f6634", lw_raw=0.9, lw_fit=2.3)

ax = make_panel(1405, 1567, (0, 0.3), [0, 0.1, 0.2, 0.3], ["0", "0.1", "0.2", "0.3"],
                "right", "I$_{\\rm gymnos}$", label_x=946, fs=17)
draw_series(ax, gymnos_raw, gymnos_fit, "#4db3e3", "#2c93c8", lw_raw=0.9, lw_fit=2.3)

ax = make_panel(1573, 1733, (0.4, 1.0), [0.4, 0.6, 0.8, 1.0], ["0.4", "0.6", "0.8", "1.0"],
                "left", "I$_{\\rm angios}$", fs=17)
draw_series(ax, angios_raw, angios_fit, "#e2308a", "#c9126e", lw_raw=0.9, lw_fit=2.3)
ax.spines["bottom"].set_color("#555555")
ax.spines["bottom"].set_linewidth(1.4)

fig.savefig("out.png", dpi=100)
